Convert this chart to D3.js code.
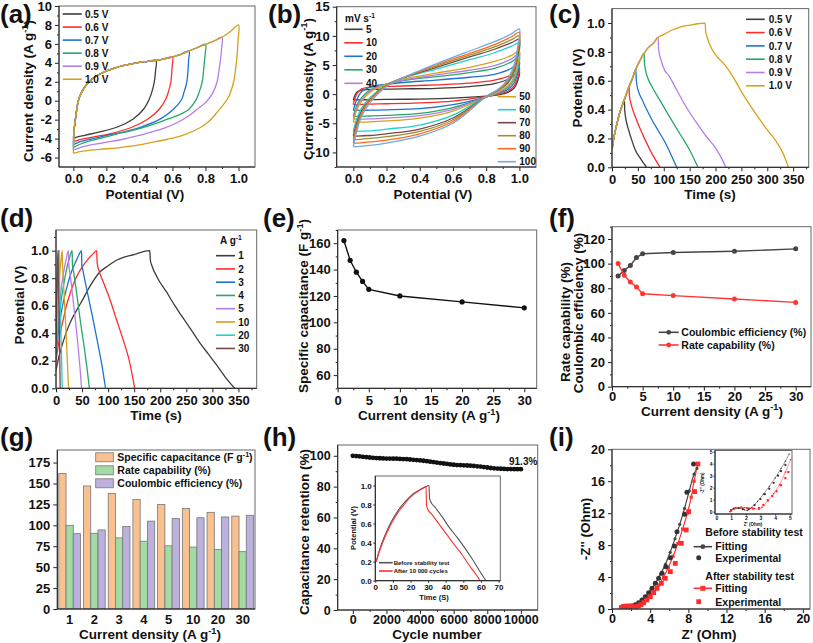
<!DOCTYPE html>
<html><head><meta charset="utf-8">
<script src="https://cdn.jsdelivr.net/npm/d3@7"></script>
<style>body{margin:0;background:#fff;}svg{display:block;}</style>
</head><body><script>
// ---------------- DATA ----------------
// (a) CV at different voltage windows
const aLabels=["0.5 V","0.6 V","0.7 V","0.8 V","0.9 V","1.0 V"];
const aWin=[0.5,0.6,0.7,0.8,0.9,1.0];
const aColors=["#3d3d3d","#ff2b2b","#1e72d2","#27a865","#b57ee6","#d6a21c"];
const aStart=[-4.0,-4.35,-4.67,-4.95,-5.2,-5.55];
const aUpper=[[0.005,-3.0],[0.01,-2.3],[0.02,-1.0],[0.03,0],[0.045,0.7],[0.06,1.2],[0.08,1.7],[0.1,2.1],[0.13,2.5],[0.16,2.8],[0.2,3.15],[0.25,3.45],[0.3,3.7],[0.35,3.9],[0.4,4.05],[0.45,4.15],[0.5,4.25],[0.55,4.42],[0.6,4.6],[0.65,4.9],[0.7,5.25],[0.75,5.6],[0.8,5.95],[0.85,6.3],[0.9,6.7],[0.95,7.3],[1.0,8.0]];
const aLow05=[[0.498,3.2],[0.49,1.95],[0.475,0.9],[0.46,0.18],[0.425,-0.9],[0.36,-1.95],[0.27,-2.75],[0.16,-3.3],[0.07,-3.65],[0.02,-3.85],[0.005,-3.95],[0,-4.0]];
const aLow06=[[0.598,3.6],[0.59,1.95],[0.575,0.9],[0.56,0.18],[0.52,-0.9],[0.45,-1.95],[0.35,-2.83],[0.22,-3.5],[0.1,-3.9],[0.03,-4.15],[0.005,-4.3],[0,-4.35]];
const aLow07=[[0.698,4.3],[0.687,1.95],[0.67,0.9],[0.657,0.18],[0.606,-0.9],[0.525,-1.95],[0.4,-2.83],[0.24,-3.54],[0.1,-4.07],[0.03,-4.4],[0.005,-4.6],[0,-4.67]];
const aLow08=[[0.798,4.9],[0.79,3.5],[0.78,1.95],[0.76,0.8],[0.74,0.0],[0.7,-0.9],[0.64,-1.5],[0.57,-1.95],[0.5,-2.4],[0.42,-2.83],[0.34,-3.2],[0.26,-3.54],[0.18,-3.9],[0.1,-4.25],[0.04,-4.6],[0.01,-4.85],[0,-4.95]];
const aLow09=[[0.898,5.6],[0.89,4.2],[0.88,3.0],[0.87,1.95],[0.84,0.7],[0.8,-0.2],[0.75,-0.9],[0.69,-1.7],[0.63,-2.3],[0.55,-2.9],[0.46,-3.36],[0.38,-3.75],[0.3,-4.07],[0.18,-4.45],[0.06,-4.85],[0.01,-5.15],[0,-5.2]];
const aLow10=[[0.998,6.5],[0.99,4.5],[0.98,3.0],[0.97,1.95],[0.94,0.4],[0.9,-0.6],[0.87,-1.24],[0.82,-2.2],[0.77,-2.83],[0.67,-3.6],[0.57,-4.07],[0.46,-4.45],[0.36,-4.78],[0.26,-5.0],[0.16,-5.13],[0.07,-5.3],[0.01,-5.5],[0,-5.55]];
const aLower=[aLow05,aLow06,aLow07,aLow08,aLow09,aLow10];

// (b) CV at different scan rates
const bRates=["5","10","20","30","40","50","60","70","80","90","100"];
const bColors=["#3d3d3d","#ff2b2b","#1e72d2","#27a865","#b57ee6","#d6a21c","#1fd3cb","#7b4646","#9a9238","#ff6a1a","#6fa9e2"];
const bUpX=[0,0.02,0.05,0.1,0.2,0.3,0.5,0.7,0.85,0.95,1.0];
const bLowX=[0.99,0.97,0.93,0.88,0.8,0.6,0.4,0.2,0.1,0.02,0];
const bUp5=[-1.0,0.3,0.7,0.8,0.85,0.9,1.0,1.3,1.8,2.8,3.9];
const bLow5=[2.3,1.1,0.3,-0.1,-0.35,-0.7,-0.85,-0.9,-0.95,-1.0,-1.0];
const bUp10=[-1.8,0.0,0.9,1.2,1.3,1.4,1.6,1.9,2.4,3.3,4.5];
const bLow10=[2.8,1.5,0.5,0.0,-0.4,-1.2,-1.5,-1.65,-1.7,-1.8,-1.8];
const bUp20=[-2.8,-1.0,0.4,1.2,1.7,2.0,2.4,2.9,3.4,4.4,5.6];
const bLow20=[3.6,2.0,0.8,0.2,-0.5,-1.8,-2.5,-2.7,-2.75,-2.8,-2.8];
const bUp30=[-3.8,-2.0,-0.6,0.7,1.7,2.3,3.0,3.7,4.4,5.5,6.5];
const bLow30=[4.3,2.5,1.1,0.3,-0.5,-2.3,-3.3,-3.65,-3.75,-3.8,-3.8];
const bUp40=[-4.3,-2.4,-0.9,0.5,1.7,2.4,3.3,4.1,4.9,6.0,7.0];
const bLow40=[4.7,2.8,1.3,0.4,-0.5,-2.6,-3.7,-4.1,-4.25,-4.3,-4.3];
const bUp50=[-4.8,-2.8,-1.2,0.3,1.7,2.6,3.6,4.6,5.6,6.6,7.4];
const bLow50=[5.0,3.0,1.4,0.5,-0.5,-2.9,-4.1,-4.6,-4.75,-4.8,-4.8];
const bUp60=[-6.4,-4.3,-2.4,-0.6,1.6,2.8,4.3,5.9,7.1,8.2,8.8];
const bLow60=[6.0,3.7,1.8,0.7,-0.4,-3.6,-5.3,-6.0,-6.3,-6.4,-6.4];
const bUp70=[-7.2,-5.0,-2.9,-0.9,1.5,2.8,4.6,6.4,7.7,8.8,9.4];
const bLow70=[6.6,4.1,2.0,0.8,-0.4,-4.1,-6.0,-6.8,-7.1,-7.2,-7.2];
const bUp80=[-7.8,-5.5,-3.2,-1.0,1.5,2.8,4.8,6.7,8.1,9.3,10.0];
const bLow80=[7.1,4.4,2.2,0.8,-0.4,-4.4,-6.4,-7.3,-7.6,-7.8,-7.8];
const bUp90=[-8.4,-6.0,-3.4,-1.1,1.4,2.8,5.0,7.0,8.5,9.8,10.6];
const bLow90=[7.6,4.8,2.4,0.9,-0.4,-4.7,-6.8,-7.9,-8.2,-8.4,-8.4];
const bUp100=[-9.0,-6.5,-3.8,-1.5,1.3,2.8,5.2,7.4,9.0,10.3,11.2];
const bLow100=[8.2,5.2,2.6,1.0,-0.4,-5.0,-7.2,-8.4,-8.8,-9.0,-9.0];
const bUps=[bUp5,bUp10,bUp20,bUp30,bUp40,bUp50,bUp60,bUp70,bUp80,bUp90,bUp100];
const bLows=[bLow5,bLow10,bLow20,bLow30,bLow40,bLow50,bLow60,bLow70,bLow80,bLow90,bLow100];

// (c) GCD at different voltage windows
const cLabels=["0.5 V","0.6 V","0.7 V","0.8 V","0.9 V","1.0 V"];
const cPeakT=[24,33,46,62,89,180];
const cCharge=[[0,0.12],[2,0.17],[5,0.23],[10,0.31],[15,0.38],[20,0.43],[24,0.47],[28,0.51],[33,0.56],[40,0.62],[46,0.68],[54,0.74],[62,0.79],[70,0.83],[80,0.86],[89,0.9],[100,0.92],[115,0.95],[130,0.97],[150,0.985],[165,0.995],[180,1.0]];
const cDis05=[[24.5,0.4],[27,0.33],[32,0.26],[38,0.19],[45,0.12],[55,0.06],[67,0]];
const cDis06=[[33.5,0.5],[36,0.45],[40,0.4],[45,0.35],[54,0.27],[64,0.19],[78,0.09],[93,0]];
const cDis07=[[47,0.6],[50,0.54],[54,0.5],[58,0.47],[67,0.4],[77,0.33],[90,0.25],[103,0.17],[115,0.08],[125,0]];
const cDis08=[[62.5,0.73],[65,0.67],[70,0.61],[77,0.56],[90,0.48],[103,0.4],[118,0.31],[135,0.21],[150,0.12],[166,0]];
const cDis09=[[90,0.82],[95,0.74],[102,0.67],[109,0.64],[120,0.57],[135,0.47],[150,0.38],[167,0.29],[183,0.21],[199,0.14],[212,0.06],[220,0]];
const cDis10=[[181,0.94],[184,0.9],[190,0.84],[200,0.78],[218,0.71],[235,0.62],[250,0.525],[265,0.44],[282,0.35],[300,0.26],[315,0.19],[330,0.1],[341,0]];
const cDis=[cDis05,cDis06,cDis07,cDis08,cDis09,cDis10];

// (d) GCD at different current densities
const dLabels=["1","2","3","4","5","10","20","30"];
const dColors=["#3d3d3d","#ff2b2b","#1e72d2","#27a865","#b57ee6","#d6a21c","#1fd3cb","#7b4646"];
const gcd1=[[0,0.13],[5,0.22],[10,0.29],[20,0.41],[30,0.5],[40,0.57],[52,0.65],[65,0.74],[84,0.845],[100,0.89],[116,0.93],[132,0.955],[148,0.97],[165,0.99],[180,1.0],[181,0.93],[184,0.89],[195,0.8],[212,0.7],[228,0.6],[244,0.51],[260,0.42],[276,0.33],[292,0.25],[308,0.17],[325,0.08],[343,0]];
const gcd2=[[0,0.2],[4,0.3],[8,0.4],[14,0.5],[20,0.6],[28,0.7],[38,0.8],[50,0.88],[62,0.94],[72,0.98],[78,1.0],[79,0.91],[82,0.86],[90,0.78],[104,0.64],[116,0.5],[129,0.35],[140,0.21],[151,0]];
const gcd3=[[0,0.25],[3,0.35],[6,0.45],[10,0.55],[16,0.66],[22,0.75],[30,0.85],[38,0.92],[44,0.97],[49,1.0],[49.5,0.9],[52,0.85],[60,0.7],[70,0.52],[80,0.33],[88,0.17],[95,0]];
const gcd4=[[0,0.27],[3,0.4],[6,0.52],[10,0.64],[15,0.76],[20,0.86],[26,0.95],[31,1.0],[31.5,0.9],[34,0.84],[40,0.68],[47,0.48],[54,0.3],[60,0.13],[64,0]];
const gcd5=[[0,0.28],[3,0.45],[6,0.58],[10,0.72],[14,0.83],[19,0.93],[24,1.0],[24.5,0.9],[27,0.83],[32,0.67],[37,0.5],[42,0.32],[46,0.15],[49,0]];
const gcd10=[[0,0.3],[2,0.48],[4,0.63],[6,0.76],[8,0.87],[10,0.95],[12,1.0],[12.3,0.92],[14,0.8],[17,0.58],[20,0.35],[22,0.18],[24,0]];
const gcd20=[[0,0.33],[1,0.5],[2,0.65],[3,0.78],[4.5,0.92],[6,1.0],[6.2,0.9],[8,0.63],[10,0.33],[12,0]];
const gcd30=[[0,0.35],[1,0.6],[2,0.78],[3,0.92],[4,1.0],[4.2,0.9],[5.5,0.6],[7,0.28],[8,0]];
const dCurves=[gcd1,gcd2,gcd3,gcd4,gcd5,gcd10,gcd20,gcd30];

// (e)(f)(g) rate performance
const currentDensity=[1,2,3,4,5,10,20,30];
const catLabels=["1","2","3","4","5","10","20","30"];
const specCap=[162,147,138,131,125,120,115.5,111];
const rateCap=[100,90.5,85,81,75.5,74,71.3,68.5];
const coulEff=[90,94.5,98.5,105,108,109,110,112];

// (h) cycling stability
const hCycles=[0,200,400,600,800,1000,1200,1400,1600,1800,2000,2200,2400,2600,2800,3000,3200,3400,3600,3800,4000,4200,4400,4600,4800,5000,5200,5400,5600,5800,6000,6200,6400,6600,6800,7000,7200,7400,7600,7800,8000,8200,8400,8600,8800,9000,9200,9400,9600,9800,10000];
const hRet=[100,99.8,99.6,99.3,99.1,98.9,98.7,98.5,98.4,98.3,98.2,98.2,98.1,98.1,98.0,97.9,97.8,97.6,97.4,97.2,97.0,96.8,96.5,96.2,95.9,95.6,95.3,95.0,94.7,94.4,94.2,94.0,93.9,93.8,93.7,93.6,93.4,93.2,93.0,92.7,92.4,92.1,91.9,91.7,91.6,91.5,91.4,91.4,91.3,91.3,91.3];
const hBefore=[[0.5,0.2],[2,0.3],[4,0.41],[6,0.5],[8,0.58],[10,0.65],[13,0.74],[16,0.81],[19,0.87],[22,0.92],[25,0.95],[28,0.98],[30.5,1.0],[30.8,0.87],[31.5,0.83],[34,0.77],[38,0.67],[42,0.56],[46.7,0.45],[51,0.34],[55,0.23],[59,0.11],[62.8,0]];
const hAfter=[[0.5,0.2],[2,0.29],[4,0.39],[6,0.48],[8,0.56],[10,0.63],[13,0.72],[16,0.79],[19,0.86],[22,0.91],[25,0.95],[28.8,0.99],[29.1,0.79],[29.8,0.75],[32,0.7],[36,0.6],[40,0.5],[44.8,0.38],[49,0.28],[53,0.17],[57,0.07],[59.6,0]];

// (i) Nyquist
const iBeforeExp=[[0.98,0.08],[1.12,0.21],[1.33,0.29],[1.57,0.29],[1.82,0.25],[2.09,0.38],[2.44,0.54],[2.79,0.79],[3.14,1.13],[3.49,1.54],[3.84,2.05],[4.19,2.59],[4.54,3.22],[4.89,3.84],[5.24,4.47],[5.65,5.3],[6.11,6.43],[6.53,7.89],[6.81,9.69],[7.61,11.86],[7.85,14.61],[8.55,18.16]];
const iBeforeFit=[[0.95,0],[1.1,0.2],[1.4,0.3],[1.7,0.28],[2.0,0.2],[2.3,0.35],[2.7,0.65],[3.1,1.0],[3.6,1.6],[4.1,2.4],[4.6,3.3],[5.1,4.4],[5.6,5.6],[6.1,7.1],[6.6,8.8],[7.1,10.6],[7.6,12.6],[8.1,14.8],[8.6,16.9],[8.9,17.6]];
const iAfterExp=[[0.98,0.17],[1.22,0.33],[1.57,0.38],[2.02,0.38],[2.44,0.29],[2.79,0.38],[3.04,0.54],[3.32,0.79],[3.66,1.13],[4.01,1.54],[4.36,2.05],[4.71,2.59],[5.17,3.22],[5.58,3.84],[6.11,4.68],[6.63,5.72],[7.26,8.23],[7.78,9.9],[8.03,12.19],[8.66,14.7],[9.0,18.16]];
const iAfterFit=[[0.95,0],[1.1,0.25],[1.5,0.38],[1.9,0.36],[2.3,0.3],[2.7,0.3],[3.0,0.5],[3.4,0.9],[3.9,1.5],[4.4,2.2],[4.9,3.0],[5.4,4.0],[5.9,5.2],[6.4,6.6],[6.9,8.2],[7.4,10.0],[7.9,12.0],[8.3,14.0],[8.6,16.0],[9.0,18.2]];
const iInBeforeFit=[[0.9,0],[1.0,0.15],[1.3,0.27],[1.6,0.27],[1.9,0.15],[2.1,0.1],[2.4,0.35],[2.8,0.85],[3.2,1.45],[3.6,2.1],[4.0,2.8],[4.4,3.6],[4.7,4.2],[4.95,4.8]];
const iInAfterFit=[[0.95,0],[1.1,0.2],[1.5,0.33],[1.9,0.33],[2.3,0.28],[2.6,0.25],[2.9,0.2],[3.1,0.35],[3.5,0.9],[3.9,1.5],[4.3,2.25],[4.7,3.3],[5.05,4.35]];
const iInBeforeExp=[[1.0,0.1],[1.2,0.25],[1.5,0.3],[1.8,0.2],[2.2,0.2],[2.6,0.55],[3.0,1.05],[3.3,1.45],[3.6,1.9],[3.9,2.4],[4.2,3.0],[4.4,3.37],[4.7,3.9]];
const iInAfterExp=[[1.0,0.1],[1.3,0.3],[1.7,0.35],[2.1,0.3],[2.5,0.25],[2.9,0.3],[3.2,0.55],[3.5,0.95],[3.8,1.3],[4.1,1.7],[4.4,2.2],[4.7,2.8],[4.9,3.3]];

// ---------------- HELPERS ----------------
const FONT='"Liberation Sans", Arial, Helvetica, sans-serif';
const TS=13.5; // axis title size
const svg=d3.select("body").append("svg").attr("width",813).attr("height",643);
svg.append("rect").attr("width",813).attr("height",643).attr("fill","#fff");
let clipN=0;
function st(sel,fs){
  sel.attr("font-family",FONT).attr("font-size",fs).attr("font-weight","bold");
  sel.select(".domain").remove();
  sel.selectAll(".tick line").attr("stroke","#222");
  sel.selectAll(".tick text").attr("fill","#111");
}
function panel(o){
  const x=o.xs||d3.scaleLinear().domain(o.xd).range([o.l,o.r]);
  const y=d3.scaleLinear().domain(o.yd).range([o.b,o.t]);
  const g=svg.append("g");
  const fs=o.fs||13, tk=o.tk==null?4:o.tk, mk=o.mk||2, pad=o.pad==null?3:o.pad, xpad=o.xpad==null?pad:o.xpad;
  const fx=o.xf||(d=>String(d)), fy=o.yf||(d=>String(d));
  if(o.bg) g.append("rect").attr("x",o.l).attr("y",o.t).attr("width",o.r-o.l).attr("height",o.b-o.t).attr("fill","#fff");
  if(o.xm) g.append("g").attr("transform",`translate(0,${o.b})`).call(d3.axisBottom(x).tickValues(o.xm).tickSize(mk).tickFormat("")).call(st,fs);
  if(o.ym) g.append("g").attr("transform",`translate(${o.l},0)`).call(d3.axisLeft(y).tickValues(o.ym).tickSize(mk).tickFormat("")).call(st,fs);
  if(o.xt) g.append("g").attr("transform",`translate(0,${o.b})`).call(d3.axisBottom(x).tickValues(o.xt).tickSize(tk).tickPadding(xpad).tickFormat(fx)).call(st,fs);
  if(o.band) g.append("g").attr("transform",`translate(0,${o.b})`).call(d3.axisBottom(x).tickSize(0).tickPadding(xpad)).call(st,fs);
  if(o.yt) g.append("g").attr("transform",`translate(${o.l},0)`).call(d3.axisLeft(y).tickValues(o.yt).tickSize(tk).tickPadding(pad).tickFormat(fy)).call(st,fs);
  const id="clip"+(clipN++);
  g.append("clipPath").attr("id",id).append("rect").attr("x",o.l).attr("y",o.t).attr("width",o.r-o.l).attr("height",o.b-o.t);
  const plot=g.append("g").attr("clip-path",`url(#${id})`);
  g.append("rect").attr("x",o.l).attr("y",o.t).attr("width",o.r-o.l).attr("height",o.b-o.t).attr("fill","none").attr("stroke","#666").attr("stroke-width",1);
  g.append("line").attr("x1",o.l).attr("x2",o.l).attr("y1",o.t).attr("y2",o.b).attr("stroke","#222");
  g.append("line").attr("x1",o.l).attr("x2",o.r).attr("y1",o.b).attr("y2",o.b).attr("stroke","#222");
  return {x,y,g,plot};
}
function txt(parent,x,y,parts,size,opt){
  opt=opt||{};
  const t=parent.append("text").attr("font-family",FONT).attr("font-weight","bold").attr("font-size",size)
    .attr("fill",opt.fill||"#111").attr("text-anchor",opt.anchor||"start");
  if(opt.rot) t.attr("transform",`translate(${x},${y}) rotate(${opt.rot})`); else t.attr("x",x).attr("y",y);
  const arr=typeof parts==="string"?[parts]:parts;
  let cur=0;
  arr.forEach(p=>{
    if(typeof p==="string"){ t.append("tspan").attr("dy",-cur).text(p); cur=0; }
    else { const s=size*0.38; t.append("tspan").attr("font-size",size*0.68).attr("dy",-s-cur).text(p.sup); cur=-s; }
  });
  return t;
}
function legLine(g,x1,x2,tx,y,color,label,size,marker){
  g.append("line").attr("x1",x1).attr("x2",x2).attr("y1",y).attr("y2",y).attr("stroke",color).attr("stroke-width",1.6);
  if(marker==="circle") g.append("circle").attr("cx",(x1+x2)/2).attr("cy",y).attr("r",2.4).attr("fill",color);
  if(marker==="square") g.append("rect").attr("x",(x1+x2)/2-2.5).attr("y",y-2.5).attr("width",5).attr("height",5).attr("fill",color);
  txt(g,tx,y+size*0.36,label,size);
}
const f1=d3.format(".1f");
const SUP={sup:"-1"};

// ---------------- PANEL A ----------------
const A=panel({l:59,r:255,t:6,b:167,xd:[-0.087,1.1],yd:[-7,10],xt:[0,0.2,0.4,0.6,0.8,1.0],xm:[0.1,0.3,0.5,0.7,0.9],xf:f1,
  yt:[-6,-4,-2,0,2,4,6,8,10],ym:[-5,-3,-1,1,3,5,7,9]});
const lineCR=(P)=>d3.line().x(d=>P.x(d[0])).y(d=>P.y(d[1])).curve(d3.curveCatmullRom.alpha(0.5));
aWin.forEach((v,i)=>{
  const pts=[[0,aStart[i]]].concat(aUpper.filter(p=>p[0]<=v+1e-9),aLower[i]);
  A.plot.append("path").attr("d",lineCR(A)(pts)).attr("fill","none").attr("stroke",aColors[i]).attr("stroke-width",1.3);
});
aLabels.forEach((l,i)=>legLine(A.g,62.7,81.7,85,14+i*13.05,aColors[i],l,10));
txt(svg,33,91,["Current density (A g",SUP,")"],TS,{rot:-90,anchor:"middle"});
txt(svg,145,198.5,"Potential (V)",TS,{anchor:"middle"});
txt(svg,0,23,"(a)",26);

// ---------------- PANEL B ----------------
const B=panel({l:336.7,r:536,t:6.7,b:167,xd:[-0.1,1.1],yd:[-12.5,15],xt:[0,0.2,0.4,0.6,0.8,1.0],xm:[0.1,0.3,0.5,0.7,0.9],xf:f1,
  yt:[-10,-5,0,5,10,15],ym:[-12.5,-7.5,-2.5,2.5,7.5,12.5]});
bRates.forEach((r,i)=>{
  const pts=bUpX.map((x,k)=>[x,bUps[i][k]]).concat(bLowX.map((x,k)=>[x,bLows[i][k]]));
  B.plot.append("path").attr("d",lineCR(B)(pts)).attr("fill","none").attr("stroke",bColors[i]).attr("stroke-width",1.3);
});
txt(B.g,345,21.5,["mV s",SUP],10);
bRates.slice(0,5).forEach((r,i)=>legLine(B.g,344.3,362.7,366,29.3+i*13.5,bColors[i],r,10));
bRates.slice(5).forEach((r,i)=>legLine(B.g,497.7,516,519.3,96.7+i*13,bColors[i+5],r,10));
txt(svg,312.5,89,["Current density (A g",SUP,")"],TS,{rot:-90,anchor:"middle"});
txt(svg,433,198.5,"Potential (V)",TS,{anchor:"middle"});
txt(svg,268,23,"(b)",26);

// ---------------- PANEL C ----------------
const C=panel({l:612,r:808.7,t:8.6,b:167.3,xd:[0,380],yd:[0,1.1],xt:[0,50,100,150,200,250,300,350],xm:[25,75,125,175,225,275,325,375],
  yt:[0,0.2,0.4,0.6,0.8,1.0],ym:[0.1,0.3,0.5,0.7,0.9],yf:f1});
const lineMX=(P)=>d3.line().x(d=>P.x(d[0])).y(d=>P.y(d[1])).curve(d3.curveMonotoneX);
cPeakT.forEach((tp,i)=>{
  const pts=cCharge.filter(p=>p[0]<=tp).concat(cDis[i]);
  C.plot.append("path").attr("d",lineMX(C)(pts)).attr("fill","none").attr("stroke",aColors[i]).attr("stroke-width",1.3);
});
cLabels.forEach((l,i)=>legLine(C.g,746,764.7,768.7,19.3+i*13.3,aColors[i],l,10));
txt(svg,582,88,"Potential (V)",TS,{rot:-90,anchor:"middle"});
txt(svg,710,199,"Time (s)",TS,{anchor:"middle"});
txt(svg,549,23,"(c)",26);

// ---------------- PANEL D ----------------
const D=panel({l:56,r:256.7,t:230,b:388.3,xd:[0,385],yd:[0,1.15],xt:[0,50,100,150,200,250,300,350],xm:[25,75,125,175,225,275,325,375],
  yt:[0,0.2,0.4,0.6,0.8,1.0],ym:[0.1,0.3,0.5,0.7,0.9,1.1],yf:f1});
dCurves.forEach((c,i)=>{
  D.plot.append("path").attr("d",lineMX(D)(c)).attr("fill","none").attr("stroke",dColors[i]).attr("stroke-width",1.3);
});
txt(D.g,220,243.5,["A g",SUP],10);
dLabels.forEach((l,i)=>legLine(D.g,216,235,238.3,255.7+i*13.25,dColors[i],l,10));
txt(svg,24,305,"Potential (V)",TS,{rot:-90,anchor:"middle"});
txt(svg,156,420,"Time (s)",TS,{anchor:"middle"});
txt(svg,0,227,"(d)",26);

// ---------------- PANEL E ----------------
const E=panel({l:337.7,r:536.7,t:230,b:388.3,xd:[0,32],yd:[50,170],xt:[0,5,10,15,20,25,30],xm:[2.5,7.5,12.5,17.5,22.5,27.5],
  yt:[60,80,100,120,140,160],ym:[50,70,90,110,130,150,170]});
const lineL=(P)=>d3.line().x(d=>P.x(d[0])).y(d=>P.y(d[1]));
const ePts=currentDensity.map((c,i)=>[c,specCap[i]]);
E.plot.append("path").attr("d",lineL(E)(ePts)).attr("fill","none").attr("stroke","#111").attr("stroke-width",1.4);
E.plot.selectAll("circle").data(ePts).join("circle").attr("cx",d=>E.x(d[0])).attr("cy",d=>E.y(d[1])).attr("r",2.6).attr("fill","#111");
txt(svg,308,306,["Specific capacitance (F g",SUP,")"],TS,{rot:-90,anchor:"middle"});
txt(svg,429,420,["Current density (A g",SUP,")"],TS,{anchor:"middle"});
txt(svg,263,227,"(e)",26);

// ---------------- PANEL F ----------------
const F=panel({l:612,r:811,t:226.7,b:386.7,xd:[0,32.5],yd:[0,130],xt:[0,5,10,15,20,25,30],xm:[2.5,7.5,12.5,17.5,22.5,27.5],
  yt:[0,20,40,60,80,100,120],ym:[10,30,50,70,90,110,130],xpad:1});
const fCE=currentDensity.map((c,i)=>[c,coulEff[i]]);
const fRC=currentDensity.map((c,i)=>[c,rateCap[i]]);
[[fCE,"#454545"],[fRC,"#ff3535"]].forEach(([pts,col])=>{
  F.plot.append("path").attr("d",lineL(F)(pts)).attr("fill","none").attr("stroke",col).attr("stroke-width",1.4);
  F.plot.append("g").selectAll("circle").data(pts).join("circle").attr("cx",d=>F.x(d[0])).attr("cy",d=>F.y(d[1])).attr("r",2.5).attr("fill",col);
});
legLine(F.g,658.7,678.7,681.3,332.3,"#454545","Coulombic efficiency (%)",10.5,"circle");
legLine(F.g,658.7,678.7,681.3,345,"#ff3535","Rate capability (%)",10.5,"circle");
txt(svg,570,322,"Rate capability (%)",TS,{rot:-90,anchor:"middle"});
txt(svg,583,313,"Coulombic efficiency (%)",TS,{rot:-90,anchor:"middle"});
txt(svg,712,415.5,["Current density (A g",SUP,")"],TS,{anchor:"middle"});
txt(svg,549,227,"(f)",26);

// ---------------- PANEL G ----------------
const gBand=d3.scaleBand().domain(catLabels).range([57.3,255]).paddingInner(0.12).paddingOuter(0.06);
const G=panel({l:57.3,r:255,t:450,b:609,xs:gBand,band:true,xpad:6,yd:[0,190],yt:[0,25,50,75,100,125,150,175]});
const gSeries=[[specCap,"#f9c18f","Specific capacitance (F g"],[rateCap,"#a3dba4","Rate capability (%)"],[coulEff,"#bcb0dc","Coulombic efficiency (%)"]];
const gSub=d3.scaleBand().domain([0,1,2]).range([0,gBand.bandwidth()]);
gSeries.forEach(([vals,col],s)=>{
  G.plot.append("g").selectAll("rect").data(vals).join("rect")
    .attr("x",(d,i)=>gBand(catLabels[i])+gSub(s)).attr("width",gSub.bandwidth())
    .attr("y",d=>G.y(d)).attr("height",d=>G.y(0)-G.y(d))
    .attr("fill",col).attr("stroke","#777").attr("stroke-width",0.8);
});
gSeries.forEach(([v,col,lab],s)=>{
  const cy=457.3+s*13;
  G.g.append("rect").attr("x",95.7).attr("y",cy-4.5).attr("width",17.6).attr("height",9).attr("fill",col).attr("stroke","#777").attr("stroke-width",0.8);
  txt(G.g,117.3,cy+3.8,s===0?[lab,SUP,")"]:lab,10.5);
});
txt(svg,150,639,["Current density (A g",SUP,")"],TS,{anchor:"middle"});
txt(svg,0,446,"(g)",26);

// ---------------- PANEL H ----------------
const Hm=panel({l:337.7,r:537.7,t:445,b:610,xd:[-900,11000],yd:[0,107],xt:[0,2000,4000,6000,8000,10000],xm:[1000,3000,5000,7000,9000],
  yt:[0,20,40,60,80,100],ym:[10,30,50,70,90],xpad:1.5,fs:12.5});
const hPts=hCycles.map((c,i)=>[c,hRet[i]]);
Hm.plot.append("path").attr("d",lineL(Hm)(hPts)).attr("fill","none").attr("stroke","#111").attr("stroke-width",1.2);
Hm.plot.append("g").selectAll("circle").data(hPts).join("circle").attr("cx",d=>Hm.x(d[0])).attr("cy",d=>Hm.y(d[1])).attr("r",2.4).attr("fill","#111");
txt(Hm.g,509,465,"91.3%",10);
const HI=panel({l:375.3,r:500.3,t:476,b:580.7,xd:[0,71],yd:[0,1.1],xt:[0,10,20,30,40,50,60,70],yt:[0,0.2,0.4,0.6,0.8,1.0],yf:f1,fs:8,tk:2,pad:1.5,bg:true});
HI.plot.append("path").attr("d",lineMX(HI)(hBefore)).attr("fill","none").attr("stroke","#555").attr("stroke-width",1.1);
HI.plot.append("path").attr("d",lineMX(HI)(hAfter)).attr("fill","none").attr("stroke","#ff3030").attr("stroke-width",1.1);
legLine(HI.g,379,392.7,393.7,562.7,"#555","Before stability test",6);
legLine(HI.g,379,392.7,393.7,571,"#ff3030","After 10 000 cycles",6);
txt(svg,355.5,528,"Potential (V)",7.5,{rot:-90,anchor:"middle"});
txt(svg,434,600,"Time (S)",7.5,{anchor:"middle"});
txt(svg,309,532,"Capacitance retention (%)",TS,{rot:-90,anchor:"middle"});
txt(svg,437,639,"Cycle number",TS,{anchor:"middle"});
txt(svg,263,446,"(h)",26);

// ---------------- PANEL I ----------------
const I=panel({l:612,r:810,t:449.3,b:609,xd:[0,20.75],yd:[0,20],xt:[0,4,8,12,16,20],xm:[2,6,10,14,18],yt:[0,4,8,12,16,20],ym:[2,6,10,14,18],xpad:1.5,fs:12.5});
function nyq(P,fitB,expB,fitA,expA,sc){
  P.plot.append("path").attr("d",lineCR(P)(fitB)).attr("fill","none").attr("stroke","#444").attr("stroke-width",1.2*sc);
  P.plot.append("path").attr("d",lineCR(P)(fitA)).attr("fill","none").attr("stroke","#ff3030").attr("stroke-width",1.2*sc);
  P.plot.append("g").selectAll("circle").data(fitB).join("circle").attr("cx",d=>P.x(d[0])).attr("cy",d=>P.y(d[1])).attr("r",1.6*sc).attr("fill","#444");
  P.plot.append("g").selectAll("rect").data(fitA).join("rect").attr("x",d=>P.x(d[0])-1.6*sc).attr("y",d=>P.y(d[1])-1.6*sc).attr("width",3.2*sc).attr("height",3.2*sc).attr("fill","#ff3030");
  P.plot.append("g").selectAll("circle").data(expB).join("circle").attr("cx",d=>P.x(d[0])).attr("cy",d=>P.y(d[1])).attr("r",2.5*sc).attr("fill","#333");
  P.plot.append("g").selectAll("rect").data(expA).join("rect").attr("x",d=>P.x(d[0])-2.4*sc).attr("y",d=>P.y(d[1])-2.4*sc).attr("width",4.8*sc).attr("height",4.8*sc).attr("fill","#ff2a2a");
}
nyq(I,iBeforeFit,iBeforeExp,iAfterFit,iAfterExp,1);
const II=panel({l:715,r:792,t:450.5,b:514,xd:[-0.1,5.15],yd:[-0.2,5.1],xt:[0,1,2,3,4,5],yt:[0,1,2,3,4,5],fs:5,tk:1.5,pad:1,bg:true});
nyq(II,iInBeforeFit,iInBeforeExp,iInAfterFit,iInAfterExp,0.45);
txt(svg,704,483,"-Z'' (Ohm)",4.5,{rot:-90,anchor:"middle"});
txt(svg,753,525.5,"Z' (Ohm)",4.5,{anchor:"middle"});
txt(I.g,705.3,535.5,"Before stability test",10.5);
legLine(I.g,693.7,712,715.3,546.7,"#444","Fitting",10.5,"circle");
I.g.append("circle").attr("cx",698.7).attr("cy",557.7).attr("r",2.5).attr("fill","#333");
txt(I.g,715.3,561.5,"Experimental",10.5);
txt(I.g,705.3,579.5,"After stability test",10.5);
legLine(I.g,693.7,712,715.3,588.3,"#ff3030","Fitting",10.5,"square");
I.g.append("rect").attr("x",696.3).attr("y",599.3).attr("width",4.8).attr("height",4.8).attr("fill","#ff2a2a");
txt(I.g,715.3,605.5,"Experimental",10.5);
txt(svg,590,529,"-Z'' (Ohm)",TS,{rot:-90,anchor:"middle"});
txt(svg,709,639,"Z' (Ohm)",TS,{anchor:"middle"});
txt(svg,549,446,"(i)",26);
</script></body></html>
